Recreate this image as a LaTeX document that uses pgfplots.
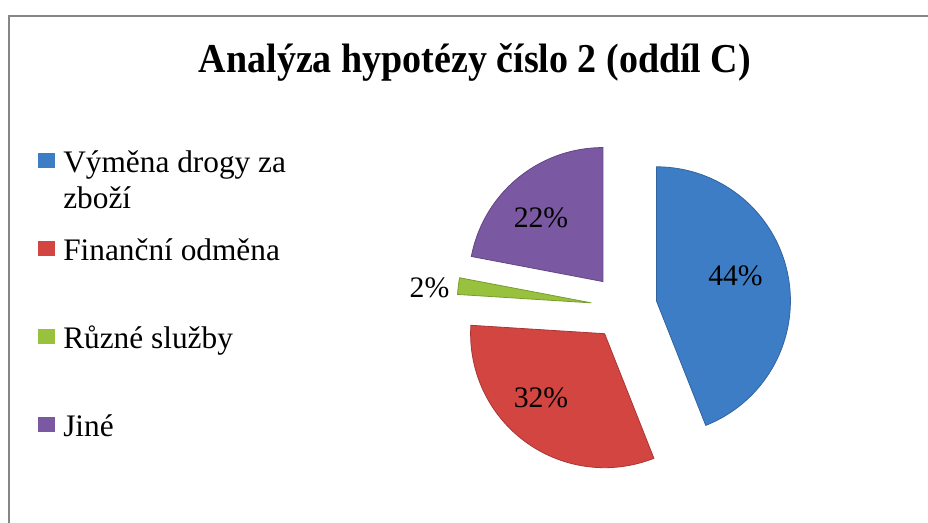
\documentclass[border=0pt]{standalone}
\usepackage{pgfplots}
\usepackage{pgfplotstable}
\pgfplotsset{compat=1.18}
\usepackage{fontspec}
\setmainfont{Liberation Serif}

\definecolor{cA}{RGB}{61,125,197}
\definecolor{cB}{RGB}{210,69,65}
\definecolor{cC}{RGB}{152,194,62}
\definecolor{cD}{RGB}{123,88,162}
\definecolor{frame}{RGB}{134,134,134}

% slice values (percent), clockwise from 12 o'clock
\pgfplotstableread{
slice value
1 44
2 32
3 2
4 22
}\piedata

\pgfplotstablegetelem{0}{value}\of\piedata \let\vA\pgfplotsretval
\pgfplotstablegetelem{1}{value}\of\piedata \let\vB\pgfplotsretval
\pgfplotstablegetelem{2}{value}\of\piedata \let\vC\pgfplotsretval
\pgfplotstablegetelem{3}{value}\of\piedata \let\vD\pgfplotsretval

% geometry in pixel units of the 928x523 picture (y downwards)
\def\cx{624}\def\cy{307}\def\R{134}\def\dd{33}
\pgfmathsetmacro\sA{90}
\pgfmathsetmacro\eA{\sA-3.6*\vA}
\pgfmathsetmacro\sB{\eA}
\pgfmathsetmacro\eB{\sB-3.6*\vB}
\pgfmathsetmacro\sC{\eB}
\pgfmathsetmacro\eC{\sC-3.6*\vC}
\pgfmathsetmacro\sD{\eC}
\pgfmathsetmacro\eD{\sD-3.6*\vD}
\pgfmathsetmacro\mA{(\sA+\eA)/2}
\pgfmathsetmacro\mB{(\sB+\eB)/2}
\pgfmathsetmacro\mC{(\sC+\eC)/2}
\pgfmathsetmacro\mD{(\sD+\eD)/2}
\pgfmathsetmacro\axA{\cx+\dd*cos(\mA)}\pgfmathsetmacro\ayA{\cy-\dd*sin(\mA)}
\pgfmathsetmacro\axB{\cx+\dd*cos(\mB)}\pgfmathsetmacro\ayB{\cy-\dd*sin(\mB)}
\pgfmathsetmacro\axC{\cx+\dd*cos(\mC)}\pgfmathsetmacro\ayC{\cy-\dd*sin(\mC)}
\pgfmathsetmacro\axD{\cx+\dd*cos(\mD)}\pgfmathsetmacro\ayD{\cy-\dd*sin(\mD)}

\begin{document}
\begin{tikzpicture}
\useasboundingbox (0,0) rectangle (696pt,392.25pt);
\begin{axis}[
  at={(0,0)}, anchor=south west,
  width=696pt, height=392.25pt, scale only axis,
  xmin=0, xmax=928, ymin=0, ymax=523, y dir=reverse,
  hide axis,
  legend image code/.code={\fill[#1] (0pt,3pt) rectangle (12.75pt,14.25pt);},
  legend style={at={(axis cs:38,146.8)}, anchor=north west, draw=none, fill=none,
    row sep=45.6pt, column sep=6pt, inner sep=0pt, nodes={inner sep=0pt},
    cells={anchor=base west},
    font=\fontsize{23.5}{27}\selectfont},
]
% frame
\addplot[frame, line width=1.5pt, forget plot] coordinates {(9,523) (9,16) (928,16)};

% slices
\addplot[draw=cA!80!black, line width=0.6pt, fill=cA, domain=\eA:\sA, samples=90, variable=\t, forget plot]
  ({\axA+\R*cos(\t)},{\ayA-\R*sin(\t)}) -- (axis cs:\axA,\ayA) -- cycle;
\addplot[draw=cB!80!black, line width=0.6pt, fill=cB, domain=\eB:\sB, samples=90, variable=\t, forget plot]
  ({\axB+\R*cos(\t)},{\ayB-\R*sin(\t)}) -- (axis cs:\axB,\ayB) -- cycle;
\addplot[draw=cC!80!black, line width=0.6pt, fill=cC, domain=\eC:\sC, samples=10, variable=\t, forget plot]
  ({\axC+\R*cos(\t)},{\ayC-\R*sin(\t)}) -- (axis cs:\axC,\ayC) -- cycle;
\addplot[draw=cD!80!black, line width=0.6pt, fill=cD, domain=\eD:\sD, samples=90, variable=\t, forget plot]
  ({\axD+\R*cos(\t)},{\ayD-\R*sin(\t)}) -- (axis cs:\axD,\ayD) -- cycle;

% data labels
\addplot[only marks, mark=none, forget plot, point meta=explicit symbolic,
  nodes near coords, every node near coord/.append style={anchor=center, inner sep=0pt,
  font=\fontsize{22.3}{26}\selectfont}]
  table[meta=lab] {
x y lab
735.5 276 44\%
541 397.5 32\%
429.5 287.5 2\%
541 217.5 22\%
};

% title
\node[anchor=base, font=\bfseries\fontsize{28.5}{34}\selectfont] at (axis cs:475,73)
  {\scalebox{1}[1.08]{Analýza hypotézy číslo 2 (oddíl C)}};

% legend
\addlegendimage{fill=cA, draw=none}
\addlegendentry{\parbox[t]{220pt}{\strut Výměna drogy za\\zboží}}
\addlegendimage{fill=cB, draw=none}
\addlegendentry{\strut Finanční odměna}
\addlegendimage{fill=cC, draw=none}
\addlegendentry{\strut Různé služby}
\addlegendimage{fill=cD, draw=none}
\addlegendentry{\strut Jiné}
\end{axis}
\end{tikzpicture}
\end{document}
